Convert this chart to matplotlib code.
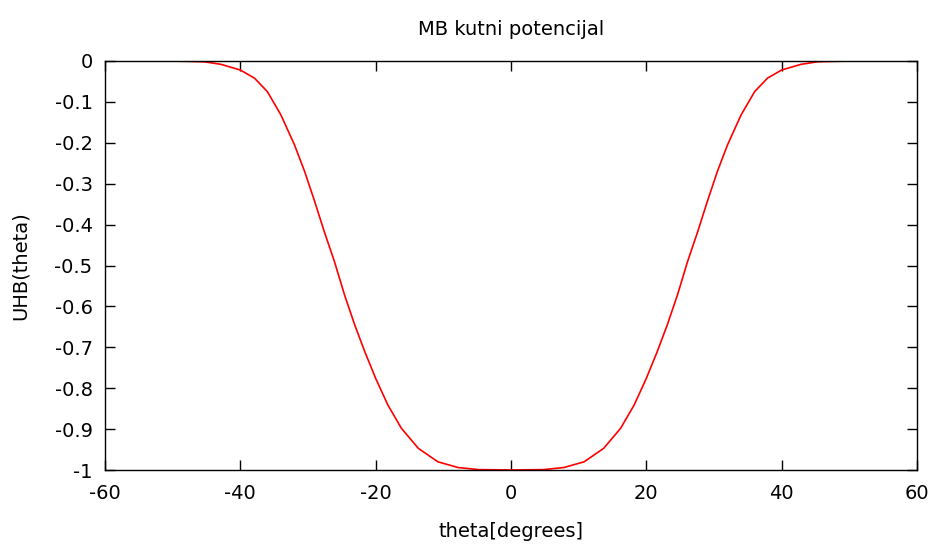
import matplotlib
matplotlib.use("Agg")
import matplotlib.pyplot as plt

# angle in degrees and the potential
theta = [-60, -55, -50, -47.5, -45.3, -42.9, -40.0, -37.9, -36.0, -34.0, -32.0,
         -30.5, -29.0, -27.6, -26.1, -24.6, -23.1, -21.6, -20.0, -18.2, -16.2,
         -13.7, -10.8, -7.8, -4.8, 0,
         4.8, 7.8, 10.8, 13.7, 16.2, 18.2, 20.0, 21.6, 23.1, 24.6, 26.1,
         27.6, 29.0, 30.5, 32.0, 34.0, 36.0, 37.9, 40.0, 42.9, 45.3, 47.5, 50, 55, 60]
uhb = [0.0, 0.0, -0.0003, -0.001, -0.002, -0.008, -0.022, -0.042, -0.075, -0.132, -0.205,
       -0.27, -0.344, -0.417, -0.49, -0.572, -0.645, -0.711, -0.776, -0.841, -0.898,
       -0.947, -0.98, -0.994, -0.999, -1.0,
       -0.999, -0.994, -0.98, -0.947, -0.898, -0.841, -0.776, -0.711, -0.645, -0.572, -0.49,
       -0.417, -0.344, -0.27, -0.205, -0.132, -0.075, -0.042, -0.022, -0.008, -0.002, -0.001, -0.0003, 0.0, 0.0]

x_ticks = [-60, -40, -20, 0, 20, 40, 60]
y_ticks = [0, -0.1, -0.2, -0.3, -0.4, -0.5, -0.6, -0.7, -0.8, -0.9, -1]
y_tick_labels = ["0", "-0.1", "-0.2", "-0.3", "-0.4", "-0.5", "-0.6", "-0.7", "-0.8", "-0.9", "-1"]

fig = plt.figure(figsize=(9.34, 5.44), dpi=100)
ax = fig.add_axes([105 / 934, 1 - 470 / 544, 812 / 934, 409 / 544])

ax.plot(theta, uhb, color="#ff0000", linewidth=1.2, solid_joinstyle="round")

ax.set_xlim(-60, 60)
ax.set_ylim(-1, 0)
ax.set_xticks(x_ticks)
ax.set_xticklabels([str(t) for t in x_ticks])
ax.set_yticks(y_ticks)
ax.set_yticklabels(y_tick_labels)
ax.tick_params(direction="in", length=7, width=1, top=True, right=True,
               labelsize=14, colors="black")
ax.tick_params(axis="x", pad=10)
ax.tick_params(axis="y", pad=9)
for s in ax.spines.values():
    s.set_linewidth(1)

ax.set_title("MB kutni potencijal", fontsize=14, pad=19)
ax.set_xlabel("theta[degrees]", fontsize=14, labelpad=14)
ax.set_ylabel("UHB(theta)", fontsize=14, labelpad=18)

fig.savefig("out.png", dpi=100)
